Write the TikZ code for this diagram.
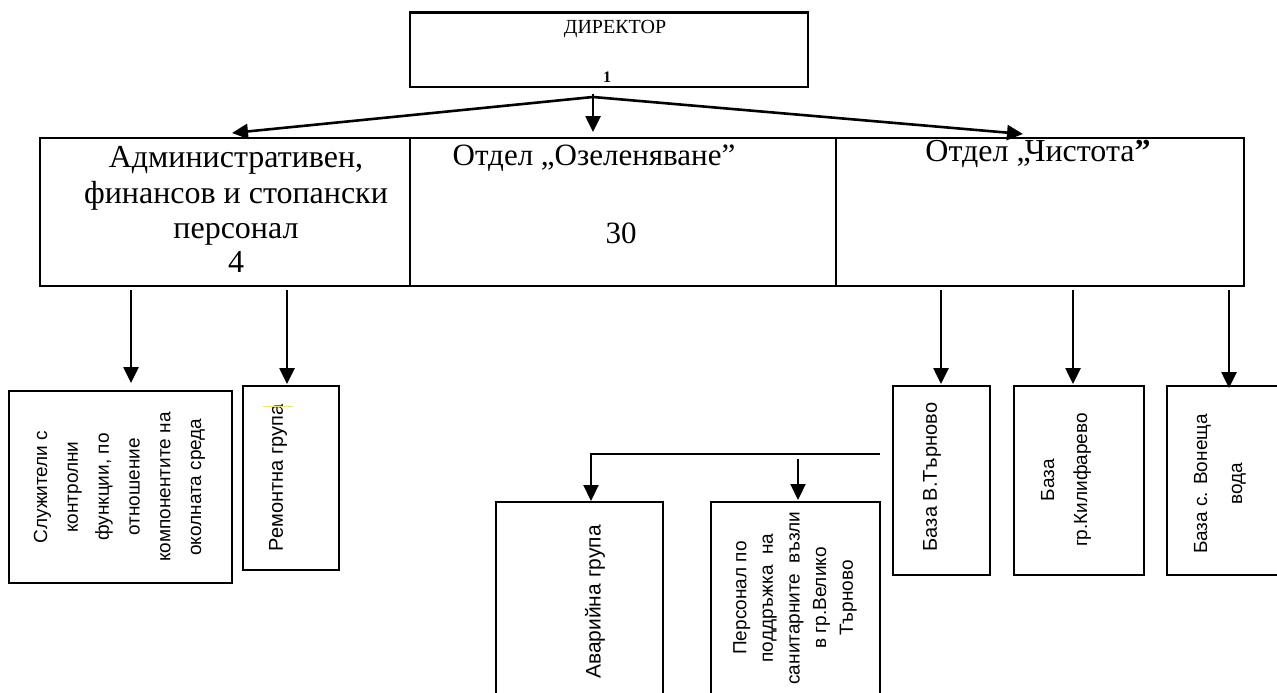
\documentclass[tikz,border=0pt]{standalone}
\usepackage{fontspec}
\setmainfont{Liberation Serif}
\newfontfamily\arialf{Liberation Sans}
\usetikzlibrary{arrows.meta}
\begin{document}
\begin{tikzpicture}[x=1pt,y=-1pt,
  thickbox/.style={draw, line width=2.6pt, inner sep=0pt, outer sep=0pt, rectangle},
  thinbox/.style={draw, line width=1.5pt, inner sep=0pt, outer sep=0pt, rectangle},
  arr/.style={line width=2.6pt, -{Triangle[width=15pt,length=16pt]}},
  arrthin/.style={line width=2.2pt, -{Triangle[width=15pt,length=16pt]}},
  serifbig/.style={font=\fontsize{32}{35}\selectfont, inner sep=0pt, anchor=base},
  serifmid/.style={font=\fontsize{31}{34}\selectfont, inner sep=0pt, anchor=base},
  vtext/.style={font=\arialf\fontsize{19}{#1}\selectfont, rotate=90, align=center, inner sep=0pt},
  vtext/.default=23
]
\useasboundingbox (0,0) rectangle (1277,693);
\clip (0,0) rectangle (1277,693);

% director
\node[thickbox, minimum width=398pt, minimum height=74.5pt] (dir) at (609,49.75) {};
\node[font=\fontsize{20}{22}\selectfont, anchor=base, inner sep=0pt] (dirt) at (615,34) {ДИРЕКТОР};
\node[font=\bfseries\fontsize{16}{18}\selectfont, anchor=base, inner sep=0pt] (dirn) at (607,82) {1};

% middle row
\node[thickbox, minimum width=370pt, minimum height=148pt] (c1) at (225,212) {};
\node[thickbox, minimum width=426pt, minimum height=148pt] (c2) at (623,212) {};
\node[thickbox, minimum width=408pt, minimum height=148pt] (c3) at (1040,212) {};

\node[serifbig] (t1a) at (236,167) {Административен,};
\node[serifbig] (t1b) at (236,203) {финансов и стопански};
\node[serifbig] (t1c) at (236,238) {персонал};
\node[serifbig] (t1d) at (236,272) {4};
\node[serifmid] (t2a) at (594,165) {Отдел „Озеленяване”};
\node[serifmid] (t2b) at (621,243) {30};
\node[serifbig] (t3a) at (1038,161) {Отдел „Чистота\textbf{”}};

% director connectors
\coordinate (apex) at (593,97);
\draw[arr] ([xshift=-16pt,yshift=-7pt]dir.south) -- ([xshift=-30pt,yshift=6pt]c2.north);
\draw[arr] (apex) -- ([xshift=7pt,yshift=5pt]c1.north);
\draw[arr] (apex) -- ([xshift=-17pt,yshift=4pt]c3.north);

% lower left boxes
\node[thinbox, minimum width=223pt, minimum height=192pt] (sluz) at (120.5,487) {};
\node[thinbox, minimum width=96pt, minimum height=184pt] (rem) at (291,478) {};
\node[vtext=30.8] (sluzt) at (119.5,487) {Служители с\\контролни\\функции, по\\отношение\\компонентите на\\околната среда};
\node[vtext, font=\arialf\fontsize{20}{23}\selectfont] (remt) at (278,478) {Ремонтна група};
\draw[yellow, line width=1.2pt] (263,406.5) -- (293,406.5);

% lower right boxes
\node[thinbox, minimum width=97pt, minimum height=189pt] (b1) at (941.5,480.5) {};
\node[thinbox, minimum width=130pt, minimum height=189pt] (b2) at (1079,480.5) {};
\node[thinbox, minimum width=123pt, minimum height=189pt] (b3) at (1228.5,480.5) {};
\node[vtext, font=\arialf\fontsize{20}{23}\selectfont] (b1t) at (932,477) {База В.Търново};
\node[vtext=33] (b2t) at (1066,480) {База\\гр.Килифарево};
\node[vtext=35] (b3t) at (1220,484) {База с. Вонеща\\вода};

% bottom boxes
\node[thinbox, minimum width=167pt, minimum height=208pt] (avar) at (579.5,606) {};
\node[thinbox, minimum width=169pt, minimum height=208pt] (pers) at (795.5,606) {};
\node[vtext, font=\arialf\fontsize{21}{24}\selectfont] (avart) at (595,602) {Аварийна група};
\node[vtext=26.6] (perst) at (795,598) {Персонал по\\поддръжка\ \ на\\санитарните\ \ възли\\в гр.Велико\\Търново};

% middle-to-lower connectors
\coordinate (s1) at (131,290);
\coordinate (s2) at (287,290);
\coordinate (s3) at (941,290);
\coordinate (s4) at (1073,290);
\coordinate (s5) at (1229,290);
\draw[arr] (s1) -- ([xshift=10.5pt,yshift=8pt]sluz.north);
\draw[arr] (s2) -- ([xshift=-4pt,yshift=2pt]rem.north);
\draw[arr] (s3) -- ([xshift=-0.5pt,yshift=2pt]b1.north);
\draw[arr] (s4) -- ([xshift=-6pt,yshift=2pt]b2.north);
\draw[arr] (s5) -- ([xshift=0.5pt,yshift=-2pt]b3.north);

% base connectors
\coordinate (hstart) at (880,454);
\coordinate (v2) at (798,459);
\draw[arrthin] (hstart) -| ([xshift=11.5pt,yshift=1pt]avar.north);
\draw[arrthin] (v2) -- ([xshift=2.5pt,yshift=2pt]pers.north);
\end{tikzpicture}
\end{document}
